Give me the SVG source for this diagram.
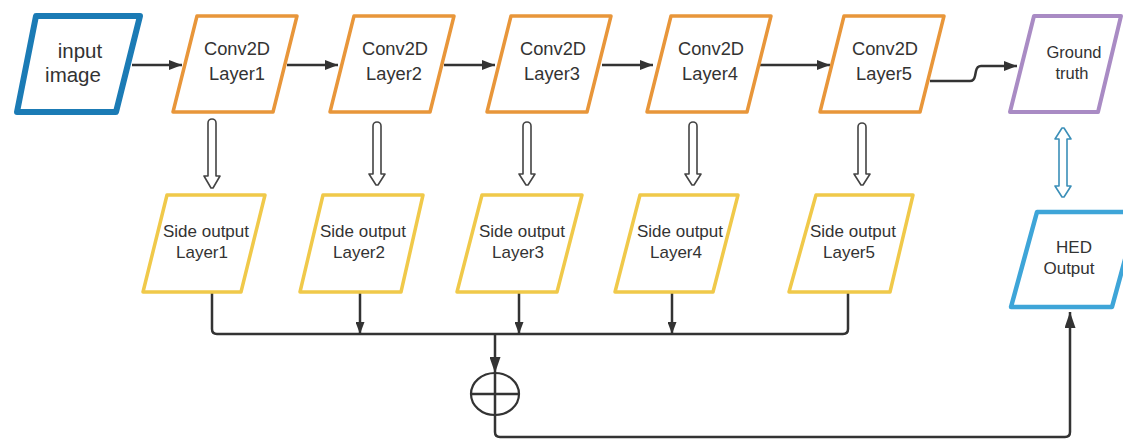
<svg xmlns="http://www.w3.org/2000/svg" width="1123" height="446" viewBox="0 0 1123 446">
<style>
.t{font-family:"Liberation Sans",Arial,sans-serif;fill:#333;text-anchor:middle}
.c{font-size:18.3px}
.s{font-size:17px}
.conv{fill:#fff;stroke:#e8963a;stroke-width:3.5;stroke-linejoin:round}
.side{fill:#fff;stroke:#f0c94a;stroke-width:3.5;stroke-linejoin:round}
.ln{fill:none;stroke:#333;stroke-width:2.5}
.hol{fill:#fff;stroke:#444;stroke-width:1.6;stroke-linejoin:round}
</style>
<defs>
<marker id="a" viewBox="0 0 13 10" refX="13" refY="5" markerWidth="13" markerHeight="10" markerUnits="userSpaceOnUse" orient="auto"><path d="M0,0 L13,5 L0,10 z" fill="#333"/></marker>
<marker id="as" viewBox="0 0 12 9" refX="12" refY="4.5" markerWidth="12" markerHeight="9" markerUnits="userSpaceOnUse" orient="auto"><path d="M0,0 L12,4.5 L0,9 z" fill="#333"/></marker>
<marker id="ab" viewBox="0 0 16 11" refX="16" refY="5.5" markerWidth="16" markerHeight="11" markerUnits="userSpaceOnUse" orient="auto"><path d="M0,0 L16,5.5 L0,11 z" fill="#333"/></marker>
</defs>
<rect width="1123" height="446" fill="#fff"/>

<g id="connectors">
<path class="ln" d="M132,65 H182" marker-end="url(#a)"/>
<path class="ln" d="M287,65 H338" marker-end="url(#a)"/>
<path class="ln" d="M444,65 H495" marker-end="url(#a)"/>
<path class="ln" d="M602,65 H653" marker-end="url(#a)"/>
<path class="ln" d="M760,65 H830" marker-end="url(#a)"/>
<path class="ln" d="M930,81 H970 Q974,81 975,76 L976,71 Q977,66 981,66 H1017" marker-end="url(#a)"/>
<path class="hol" d="M208,123 A4,4 0 0 1 216,123 V176 H220 L213,188 H211 L204,176 H208 Z"/>
<path class="hol" d="M373,126 A4,4 0 0 1 381,126 V174 H385 L378,185 H376 L369,174 H373 Z"/>
<path class="hol" d="M523,126 A4,4 0 0 1 531,126 V174 H535 L528,185 H526 L519,174 H523 Z"/>
<path class="hol" d="M689,126 A4,4 0 0 1 697,126 V174 H701 L694,185 H692 L685,174 H689 Z"/>
<path class="hol" d="M858,127 A4,4 0 0 1 866,127 V174 H870 L863,185 H861 L854,174 H858 Z"/>
<path fill="#fff" stroke="#3b8fb8" stroke-width="1.6" stroke-linejoin="round" d="M1062,128 H1064 L1071,139 H1067 V186 H1071 L1064,197 H1062 L1055,186 H1059 V139 H1055 Z"/>
<path class="ln" d="M212,292 V329 Q212,334 217,334 H843 Q848,334 848,329 V292"/>
<path class="ln" d="M360,292 V334" marker-end="url(#as)"/>
<path class="ln" d="M519,292 V334" marker-end="url(#as)"/>
<path class="ln" d="M672,292 V334" marker-end="url(#as)"/>
<path class="ln" d="M495,334 V373" marker-end="url(#ab)"/>
<ellipse cx="495" cy="394" rx="24" ry="21" fill="none" stroke="#333" stroke-width="2.2"/>
<path class="ln" d="M495,373 V415 M471,394 H519" stroke-width="2"/>
<path class="ln" d="M495,415 V432 Q495,437 500,437 H1065 Q1070,437 1070,432 V312" marker-end="url(#ab)"/>
</g>

<g id="input">
<path d="M36,16 H140 L116,112 H17 Z" fill="#fff" stroke="#1b7bb5" stroke-width="6" stroke-linejoin="round"/>
<text class="t" x="80" y="58" font-size="20.5">input</text>
<text class="t" x="73" y="82" font-size="20.5">image</text>
</g>

<g id="conv1"><path class="conv" d="M197,16 H297 L273,112 H173 Z"/><text class="t c" x="237" y="55">Conv2D</text><text class="t c" x="237" y="80">Layer1</text></g>
<g id="conv2"><path class="conv" d="M354,16 H454 L430,112 H330 Z"/><text class="t c" x="395" y="55">Conv2D</text><text class="t c" x="394" y="80">Layer2</text></g>
<g id="conv3"><path class="conv" d="M511,16 H611 L587,112 H487 Z"/><text class="t c" x="553" y="55">Conv2D</text><text class="t c" x="552" y="80">Layer3</text></g>
<g id="conv4"><path class="conv" d="M671,16 H771 L747,112 H647 Z"/><text class="t c" x="711" y="55">Conv2D</text><text class="t c" x="710" y="80">Layer4</text></g>
<g id="conv5"><path class="conv" d="M844,16 H944 L920,112 H820 Z"/><text class="t c" x="885" y="55">Conv2D</text><text class="t c" x="884" y="80">Layer5</text></g>

<g id="ground"><path d="M1034,16 H1121 L1098,112 H1010 Z" fill="#fff" stroke="#a98bc4" stroke-width="4" stroke-linejoin="round"/><text class="t" x="1074" y="58" font-size="16.5">Ground</text><text class="t" x="1072" y="79" font-size="16.5">truth</text></g>

<g id="side1"><path class="side" d="M167,195 H265 L241,292 H143 Z"/><text class="t s" x="206" y="237">Side output</text><text class="t s" x="202" y="258">Layer1</text></g>
<g id="side2"><path class="side" d="M323,195 H423 L401,292 H300 Z"/><text class="t s" x="363" y="237">Side output</text><text class="t s" x="359" y="258">Layer2</text></g>
<g id="side3"><path class="side" d="M482,195 H582 L557,292 H457 Z"/><text class="t s" x="522" y="237">Side output</text><text class="t s" x="518" y="258">Layer3</text></g>
<g id="side4"><path class="side" d="M640,195 H738 L713,292 H615 Z"/><text class="t s" x="680" y="237">Side output</text><text class="t s" x="676" y="258">Layer4</text></g>
<g id="side5"><path class="side" d="M816,195 H913 L890,292 H789 Z"/><text class="t s" x="853" y="237">Side output</text><text class="t s" x="849" y="258">Layer5</text></g>

<g id="hed"><path d="M1037,212 H1138 L1112,307 H1011 Z" fill="#fff" stroke="#3ea5d8" stroke-width="4.5" stroke-linejoin="round"/><text class="t" x="1074" y="253" font-size="17">HED</text><text class="t" x="1069" y="274" font-size="17">Output</text></g>
</svg>
